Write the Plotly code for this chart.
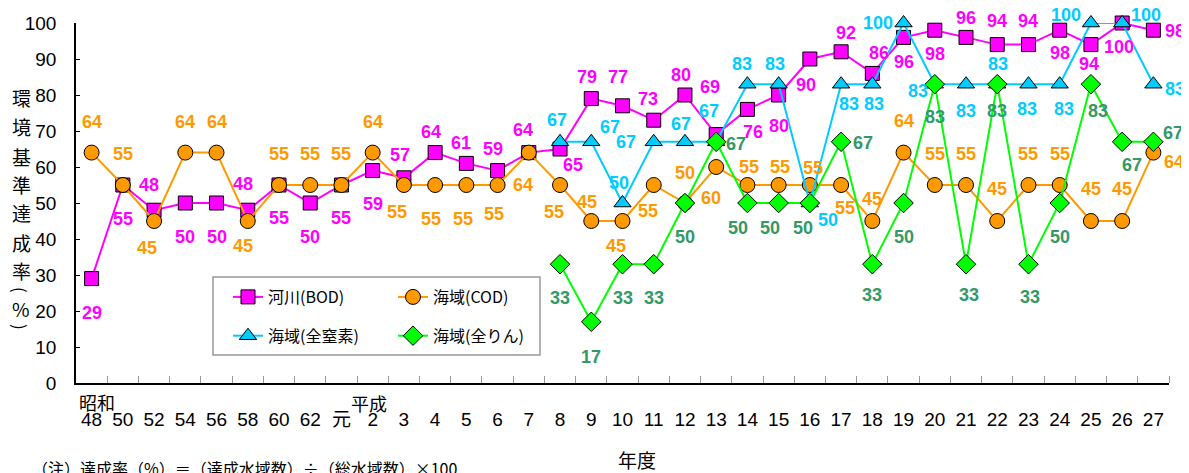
import plotly.graph_objects as go

# ---------------- data ----------------
categories = ["48", "50", "52", "54", "56", "58", "60", "62", "元",
              "2", "3", "4", "5", "6", "7", "8", "9", "10", "11", "12",
              "13", "14", "15", "16", "17", "18", "19", "20", "21", "22",
              "23", "24", "25", "26", "27"]

river_bod = [29, 55, 48, 50, 50, 48, 55, 50, 55, 59, 57, 64, 61, 59, 64, 65,
             79, 77, 73, 80, 69, 76, 80, 90, 92, 86, 96, 98, 96, 94, 94, 98,
             94, 100, 98]
sea_cod = [64, 55, 45, 64, 64, 45, 55, 55, 55, 64, 55, 55, 55, 55, 64, 55,
           45, 45, 55, 50, 60, 55, 55, 55, 55, 45, 64, 55, 55, 45, 55, 55,
           45, 45, 64]
# total nitrogen / total phosphorus start in H8
np_categories = categories[15:]
sea_tn = [67, 67, 50, 67, 67, 67, 83, 83, 50, 83, 83, 100, 83, 83, 83, 83,
          83, 100, 100, 83]
sea_tp = [33, 17, 33, 33, 50, 67, 50, 50, 50, 67, 33, 50, 83, 33, 83, 33,
          50, 83, 67, 67]

series_names = ["河川(BOD)", "海域(COD)", "海域(全窒素)", "海域(全りん)"]
y_ticks = list(range(0, 101, 10))

# ---------------- label placement (pixel offsets: dx right, dy down) ----------------
bod_off = [(0, 34), (0, 34), (-5, -25), (0, 34), (0, 34), (-5, -26), (0, 33),
           (0, 34), (0, 33), (0, 33), (-4, -23), (-4, -21), (-5, -20),
           (-5, -22), (-6, -23), (13, 16), (-4, -22), (-5, -29), (-6, -21),
           (-4, -20), (-6, -48), (6, 23), (0, 31), (-4, 26), (5, -19),
           (7, -20), (0, 25), (0, 24), (0, -19), (0, -24), (0, -24), (0, 23),
           (-2, 19), (-3, 24), (22, 1)]
cod_off = [(0, -31), (0, -31), (-7, 27), (0, -31), (0, -31), (-5, 25),
           (0, -31), (0, -31), (0, -31), (0, -31), (-7, 27), (-4, 34),
           (-3, 34), (-4, 29), (-6, 32), (-6, 27), (-4, -19), (-7, 25),
           (-6, 26), (0, -30), (-5, 31), (2, -18), (1, -18), (3, -17),
           (4, 23), (0, -22), (0, -32), (0, -31), (0, -31), (0, -32),
           (0, -31), (0, -31), (0, -32), (0, -32), (21, 9)]
tn_off = [(-3, -22), (19, -15), (-4, -20), (-28, 0), (-4, -18), (-7, -31),
          (-5, -20), (-4, -20), (18, 17), (8, 20), (2, 20), (-26, 0),
          (-17, 7), (0, 27), (1, -20), (-1, 25), (4, 25), (-25, -8),
          (24, -8), (22, 5)]
tp_off = [(0, 34), (0, 35), (0, 34), (0, 34), (0, 34), (20, 2), (-9, 25),
          (-9, 25), (-7, 25), (22, 1), (0, 31), (0, 34), (0, 33), (3, 31),
          (0, 27), (2, 33), (0, 34), (7, 27), (10, 23), (20, -9)]

# ---------------- styles ----------------
line_colors = ["#FF00FF", "#FF9900", "#00CCFF", "#00FF00"]
marker_fill = ["#FF00FF", "#FF9900", "#00CCFF", "#00FF00"]
label_colors = ["#FF00FF", "#FF9900", "#00CCFF", "#339966"]
symbols = ["square", "circle", "triangle-up", "diamond"]
msizes = [14, 15, 15, 15]

NUM_FONT = "Liberation Sans, Arial, sans-serif"
JP_FONT = "Noto Sans CJK JP, Noto Sans CJK SC, sans-serif"

idx = {c: i for i, c in enumerate(categories)}
x_all = [idx[c] for c in categories]
x_np = [idx[c] for c in np_categories]

fig = go.Figure()
series = [(x_all, river_bod, bod_off), (x_all, sea_cod, cod_off),
          (x_np, sea_tn, tn_off), (x_np, sea_tp, tp_off)]
legend_ids = ["legend", "legend2", "legend", "legend2"]

for k, (xs, ys, offs) in enumerate(series):
    fig.add_trace(go.Scatter(
        x=xs, y=ys, mode="lines+markers", name=series_names[k],
        line=dict(color=line_colors[k], width=2),
        marker=dict(symbol=symbols[k], size=msizes[k], color=marker_fill[k],
                    line=dict(color="black", width=1)),
        cliponaxis=False, legend=legend_ids[k], legendgroup=f"g{k}",
        hoverinfo="skip"))

annotations = []
for k, (xs, ys, offs) in enumerate(series):
    for xv, yv, (dx, dy) in zip(xs, ys, offs):
        annotations.append(dict(
            x=xv, y=yv, xref="x", yref="y", text=f"<b>{yv}</b>",
            showarrow=False, xshift=dx, yshift=-dy,
            font=dict(family=NUM_FONT, size=18, color=label_colors[k])))

# The page body has an 8px margin, so the figure starts at (8, 8) of the window.
OFF = 8
WIN_W, WIN_H = 1189, 473
W, H = WIN_W - OFF, WIN_H - OFF
# plot area in window pixels: x 76..1169, y 23..383
L, R, T, B = 76 - OFF, WIN_W - 1169, 23 - OFF, WIN_H - 383
PW, PH = W - L - R, H - T - B


def px2paper_x(px):
    return (px - OFF - L) / PW


def px2paper_y(py):
    return (T + PH - (py - OFF)) / PH


# vertical y-axis title (characters stacked)
title_chars = ["環", "境", "基", "準", "達", "成", "率", "(", "%", ")"]
title_ys = [97, 127, 156, 184, 212, 242, 270, 290, 308, 327]
title_angles = [0, 0, 0, 0, 0, 0, 0, 90, 0, 90]
for ch, py, ang in zip(title_chars, title_ys, title_angles):
    annotations.append(dict(
        x=px2paper_x(21), y=px2paper_y(py), xref="paper", yref="paper",
        text=ch, showarrow=False, xanchor="center", yanchor="middle",
        textangle=ang,
        font=dict(family=JP_FONT, size=19 if ang == 0 else 17, color="black")))

# era labels
for txt, px, py in [("昭和", 97, 402), ("平成", 369, 403)]:
    annotations.append(dict(
        x=px2paper_x(px), y=px2paper_y(py), xref="paper", yref="paper",
        text=txt, showarrow=False, xanchor="center", yanchor="middle",
        font=dict(family=JP_FONT, size=18, color="black")))

annotations.append(dict(
    x=px2paper_x(637), y=px2paper_y(460), xref="paper", yref="paper",
    text="年度", showarrow=False, xanchor="center", yanchor="middle",
    font=dict(family=JP_FONT, size=19, color="black")))
annotations.append(dict(
    x=px2paper_x(30), y=px2paper_y(468), xref="paper", yref="paper",
    text="（注）達成率（%）＝（達成水域数）÷（総水域数）×100",
    showarrow=False, xanchor="left", yanchor="middle",
    font=dict(family=JP_FONT, size=16, color="black")))

boundaries = [i - 0.5 for i in range(1, len(categories) + 1)]

fig.update_layout(
    width=W, height=H,
    margin=dict(l=L, r=R, t=T, b=B, pad=0, autoexpand=False),
    paper_bgcolor="white", plot_bgcolor="white",
    showlegend=True,
    annotations=annotations,
    xaxis=dict(
        range=[-0.5, len(categories) - 0.5], tickmode="array",
        tickvals=x_all, ticktext=categories, ticks="", automargin=False,
        showline=True, linecolor="black", linewidth=1.5,
        showgrid=False, zeroline=False, ticklabelstandoff=18,
        tickfont=dict(family=NUM_FONT + ", " + JP_FONT, size=19, color="black"),
        minor=dict(tickmode="array", tickvals=boundaries, ticks="inside",
                   ticklen=7, tickcolor="#999999", tickwidth=1, showgrid=False)),
    yaxis=dict(
        range=[0, 100], tickmode="array", tickvals=y_ticks, automargin=False,
        ticks="inside", ticklen=4, tickcolor="black", tickwidth=1,
        showline=True, linecolor="black", linewidth=1.5,
        showgrid=False, zeroline=False, ticklabelstandoff=14,
        tickfont=dict(family=NUM_FONT, size=19, color="black")),
    legend=dict(
        x=px2paper_x(228), y=px2paper_y(280), xanchor="left", yanchor="top",
        bgcolor="rgba(0,0,0,0)", borderwidth=0, itemwidth=30,
        traceorder="grouped", tracegroupgap=15,
        font=dict(family=JP_FONT, size=16, color="black")),
    legend2=dict(
        x=px2paper_x(393), y=px2paper_y(280), xanchor="left", yanchor="top",
        bgcolor="rgba(0,0,0,0)", borderwidth=0, itemwidth=30,
        traceorder="grouped", tracegroupgap=15,
        font=dict(family=JP_FONT, size=16, color="black")),
    shapes=[dict(type="rect", xref="paper", yref="paper",
                 x0=px2paper_x(213), x1=px2paper_x(540),
                 y0=px2paper_y(355), y1=px2paper_y(277),
                 line=dict(color="#999999", width=1.5),
                 fillcolor="rgba(255,255,255,0)", layer="below")],
)

fig.write_html("out.html")
